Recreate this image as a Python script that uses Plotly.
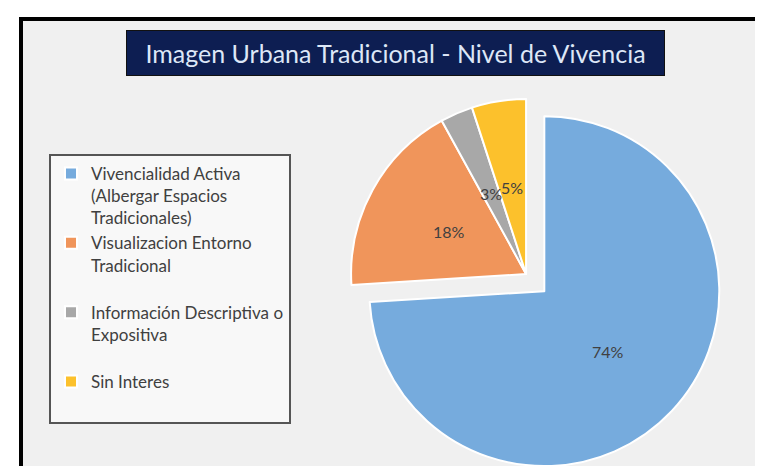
import math
import plotly.graph_objects as go

W, H = 763, 466

categories = [
    "Vivencialidad Activa<br>(Albergar Espacios<br>Tradicionales)",
    "Visualizacion Entorno<br>Tradicional<br> ",
    "Información Descriptiva o<br>Expositiva<br> ",
    "Sin Interes<br> ",
]
values = [74, 18, 3, 5]
colors = ["#76abdd", "#f0955b", "#a8a8a8", "#fcc12c"]
pulls = [0.143, 0, 0, 0]
title_text = "Imagen Urbana Tradicional - Nivel de Vivencia"

dom_x = [0.414, 0.944]
dom_y = [0, 400 / H]


def px(x):
    return x / W


def py(y):
    return 1 - y / H


fig = go.Figure(
    go.Pie(
        labels=categories,
        values=values,
        sort=False,
        direction="clockwise",
        rotation=0,
        pull=pulls,
        marker=dict(colors=colors, line=dict(color="#ffffff", width=2)),
        textinfo="none",
        domain=dict(x=dom_x, y=dom_y),
        hoverinfo="label+percent",
    )
)

# percentage labels at the centre of each slice (same geometry plotly uses)
cx = W * (dom_x[0] + dom_x[1]) / 2
box_h = H * (dom_y[1] - dom_y[0])
cy = H * (1 - dom_y[0]) - box_h / 2
r = min(W * (dom_x[1] - dom_x[0]) / 2, box_h / 2) / (1 + max(pulls))
total = sum(values)
label_anns = []
acc = 0
for v, p in zip(values, pulls):
    mid = (acc + v / 2) / total * 2 * math.pi
    acc += v
    dx, dy = math.sin(mid), -math.cos(mid)
    lx = cx + (p + 0.5) * r * dx
    ly = cy + (p + 0.5) * r * dy
    label_anns.append(dict(
        text=f"{round(v / total * 100)}%", xref="paper", yref="paper",
        x=px(lx), y=py(ly), xanchor="center", yanchor="middle", showarrow=False,
        font=dict(family="Lato", size=16, color="#404040"),
    ))

shapes = [
    dict(type="rect", xref="paper", yref="paper", x0=px(13), x1=px(760), y0=py(470), y1=py(11),
         fillcolor="#f0f0f0", line=dict(width=0), layer="below"),
    dict(type="line", xref="paper", yref="paper", x0=px(11), x1=px(763), y0=py(11), y1=py(11),
         line=dict(color="#000000", width=4), layer="above"),
    dict(type="line", xref="paper", yref="paper", x0=px(13), x1=px(13), y0=py(9), y1=py(470),
         line=dict(color="#000000", width=4), layer="above"),
    dict(type="line", xref="paper", yref="paper", x0=px(760), x1=px(760), y0=py(10), y1=py(470),
         line=dict(color="#555555", width=2), layer="above"),
]

fig.update_layout(
    width=W,
    height=H,
    margin=dict(l=0, r=0, t=0, b=0),
    paper_bgcolor="#ffffff",
    plot_bgcolor="#ffffff",
    shapes=shapes,
    showlegend=True,
    legend=dict(
        x=px(41), y=py(146), xanchor="left", yanchor="top",
        bgcolor="#f8f8f8", bordercolor="#555555", borderwidth=2,
        font=dict(family="Lato", size=17, color="#404040"),
        valign="top",
        traceorder="normal",
    ),
    annotations=[
        dict(
            text=title_text, xref="paper", yref="paper",
            x=px(387.5), y=py(45), xanchor="center", yanchor="middle",
            showarrow=False, width=535, height=42,
            bgcolor="#0d1e52", bordercolor="#111111", borderwidth=1, borderpad=1,
            font=dict(family="Lato", size=25, color="#dde7f7"),
        )
    ] + label_anns,
)

fig.write_html("out.html")
